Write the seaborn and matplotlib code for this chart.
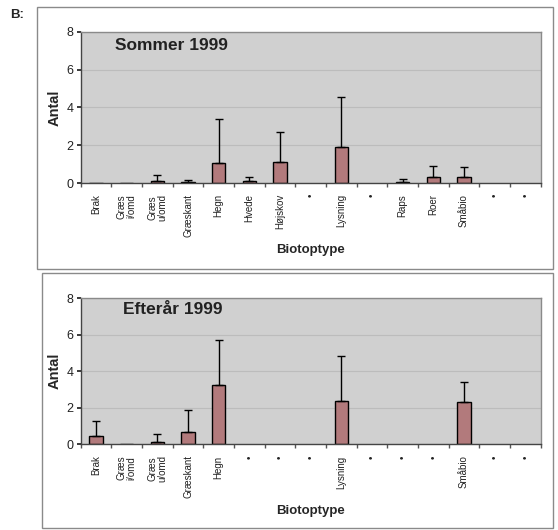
import numpy as np
import pandas as pd
import matplotlib
matplotlib.use("Agg")
import matplotlib.pyplot as plt
import seaborn as sns
from matplotlib.patches import Rectangle

sns.set_theme(style="white")
plt.rcParams['font.family'] = ['Liberation Sans', 'DejaVu Sans']

# ---- data ----
summer_labels = ["Brak", "Græs\ni/omd", "Græs\nu/omd", "Græskant", "Hegn", "Hvede",
                 "Højskov", "•", "Lysning", "•", "Raps", "Roer", "Småbio", "•", "•"]
summer_mean = [0.0, 0.0, 0.1, 0.05, 1.05, 0.1, 1.13, np.nan, 1.9, np.nan, 0.05, 0.3, 0.3, np.nan, np.nan]
summer_upper = [0.0, 0.0, 0.4, 0.18, 3.38, 0.3, 2.69, np.nan, 4.53, np.nan, 0.2, 0.9, 0.87, np.nan, np.nan]

autumn_labels = ["Brak", "Græs\ni/omd", "Græs\nu/omd", "Græskant", "Hegn", "•", "•", "•",
                 "Lysning", "•", "•", "•", "Småbio", "•", "•"]
autumn_mean = [0.46, 0.0, 0.15, 0.68, 3.23, np.nan, np.nan, np.nan, 2.39, np.nan, np.nan, np.nan, 2.32, np.nan, np.nan]
autumn_upper = [1.29, 0.0, 0.55, 1.87, 5.7, np.nan, np.nan, np.nan, 4.84, np.nan, np.nan, np.nan, 3.43, np.nan, np.nan]

titles = ["Sommer 1999", "Efterår 1999"]

BAR = "#b27a7c"
BG = "#d0d0d0"

fig = plt.figure(figsize=(5.58, 5.30), dpi=100)
W, H = 558, 530

def fx(px):
    return px / W

def fy(py):
    return 1 - py / H

# panel frames
for (x0, y0, x1, y1) in [(37, 7, 553, 269), (42, 273, 553, 528)]:
    fig.patches.append(Rectangle((fx(x0), fy(y1)), fx(x1) - fx(x0), fy(y0) - fy(y1),
                                 transform=fig.transFigure, fill=False,
                                 edgecolor="#8a8a8a", lw=1.0))

fig.text(fx(10), fy(15), "B:", fontsize=9.5, fontweight="bold", va="center", ha="left")

axes_rects = [(80.7, 31.7, 540.7, 183.0), (80.7, 298.3, 540.7, 444.3)]
panels = [(summer_labels, summer_mean, summer_upper),
          (autumn_labels, autumn_mean, autumn_upper)]
title_pos = [(0.075, 0.91), (0.092, 0.92)]

for i, ((x0, y0, x1, y1), (labels, mean, upper)) in enumerate(zip(axes_rects, panels)):
    ax = fig.add_axes([fx(x0), fy(y1), fx(x1) - fx(x0), fy(y0) - fy(y1)])
    ax.set_facecolor(BG)
    n = len(labels)
    idx = list(range(n))
    df = pd.DataFrame({"pos": idx, "val": mean})
    sns.barplot(data=df, x="pos", y="val", order=idx, color=BAR, saturation=1,
                width=0.43, edgecolor="black", linewidth=1.0, errorbar=None, ax=ax)
    m = np.array(mean, dtype=float)
    u = np.array(upper, dtype=float)
    ok = ~np.isnan(m) & ((u - m) > 0)
    ax.errorbar(np.array(idx)[ok], m[ok], yerr=[np.zeros(ok.sum()), (u - m)[ok]],
                fmt="none", ecolor="black", elinewidth=1.0, capsize=3, capthick=1.0)
    ax.set_ylim(0, 8)
    ax.set_xlim(-0.5, n - 0.5)
    ax.set_yticks([0, 2, 4, 6, 8])
    ax.yaxis.grid(True, color="#bcbcbc", lw=0.8)
    ax.set_axisbelow(True)
    ax.tick_params(axis="y", labelsize=9, length=3, direction="out", left=True,
                   colors="#222222", pad=2)
    ax.set_xticks(idx)
    ax.set_xticklabels(labels, rotation=90, fontsize=7, va="top", ha="center",
                       linespacing=1.0)
    ax.tick_params(axis="x", length=0, pad=8, colors="#222222")
    ax.set_xticks(np.arange(-0.5, n, 1.0), minor=True)
    ax.tick_params(axis="x", which="minor", length=3, direction="out", bottom=True,
                   color="#555555")
    for s in ["top", "right"]:
        ax.spines[s].set_color("#8a8a8a")
        ax.spines[s].set_linewidth(1.0)
    for s in ["left", "bottom"]:
        ax.spines[s].set_color("#444444")
        ax.spines[s].set_linewidth(1.0)
    ax.set_xlabel("Biotoptype", fontsize=9.5, fontweight="bold", labelpad=5)
    ax.set_ylabel("Antal", fontsize=10.5, fontweight="bold", labelpad=4)
    ax.text(title_pos[i][0], title_pos[i][1], titles[i], transform=ax.transAxes,
            fontsize=12.5, fontweight="bold", ha="left", va="center", color="#222222")

fig.savefig("out.png", dpi=100)
